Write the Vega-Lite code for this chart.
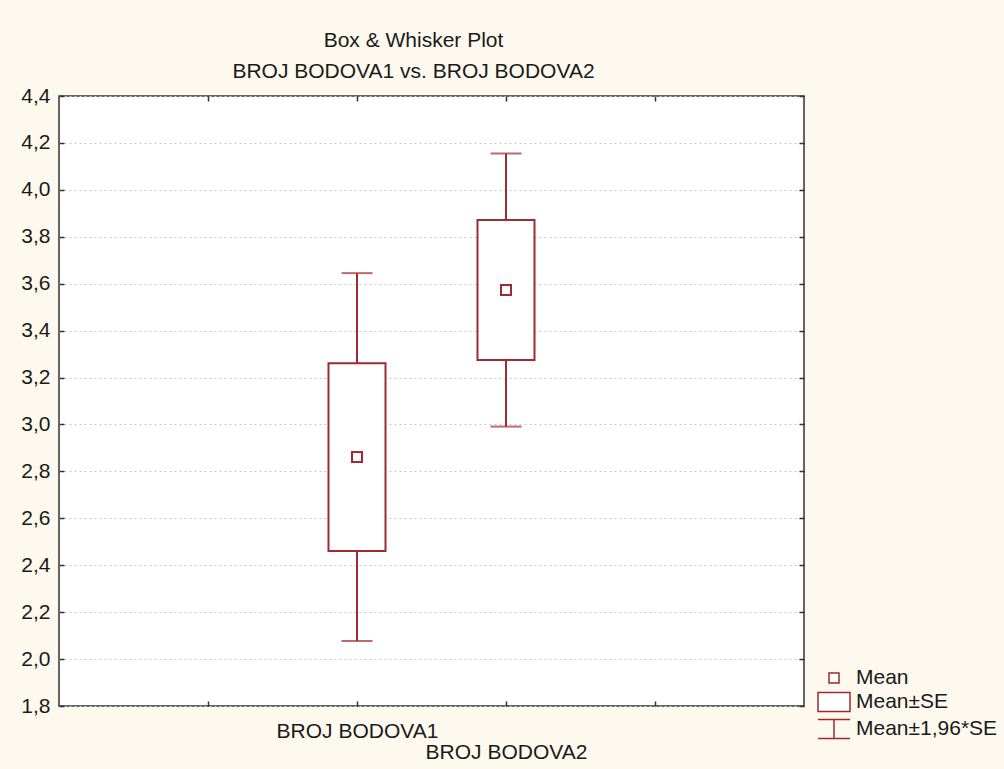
{
  "$schema": "https://vega.github.io/schema/vega-lite/v6.json",
  "autosize": {"type": "none"},
  "width": 745,
  "height": 610,
  "padding": {"left": 59, "top": 96, "right": 200, "bottom": 63},
  "background": "#FEF9EE",
  "title": {
    "text": ["Box & Whisker Plot", "BROJ BODOVA1 vs. BROJ BODOVA2"],
    "anchor": "middle",
    "dx": -18,
    "offset": 3,
    "lineHeight": 31,
    "font": "Liberation Sans",
    "fontSize": 21,
    "fontWeight": "normal",
    "color": "#1a1a1a"
  },
  "config": {
    "view": {"fill": "white", "stroke": "#333333", "strokeWidth": 1.5},
    "axis": {
      "labelFont": "Liberation Sans",
      "labelFontSize": 21,
      "labelColor": "#1a1a1a",
      "domain": false,
      "tickColor": "#333333",
      "tickWidth": 1.5,
      "title": null
    }
  },
  "data": {
    "values": [
      {"variable": "BROJ BODOVA1", "mean": 2.861, "se_lo": 2.461, "se_hi": 3.261, "ci_lo": 2.077, "ci_hi": 3.645},
      {"variable": "BROJ BODOVA2", "mean": 3.573, "se_lo": 3.275, "se_hi": 3.872, "ci_lo": 2.991, "ci_hi": 4.155}
    ]
  },
  "resolve": {"axis": {"x": "independent", "y": "independent"}},
  "layer": [
    {
      "mark": {"type": "rule", "color": "#9F2B30", "strokeWidth": 2},
      "encoding": {
        "x": {
          "field": "variable", "type": "nominal",
          "scale": {"type": "point", "domain": ["_a", "BROJ BODOVA1", "BROJ BODOVA2", "_b"], "padding": 1},
          "axis": {
            "orient": "bottom",
            "labelAngle": 0,
            "tickSize": -5,
            "labelExpr": "indexof(datum.value, '_') == 0 ? '' : datum.value",
            "labelPadding": {"condition": {"test": "datum.value == 'BROJ BODOVA2'", "value": 40}, "value": 19},
            "labelBaseline": "top"
          }
        },
        "y": {
          "field": "ci_lo", "type": "quantitative",
          "scale": {"domain": [1.8, 4.4], "nice": false, "zero": false},
          "axis": {
            "orient": "left",
            "values": [1.8, 2.0, 2.2, 2.4, 2.6, 2.8, 3.0, 3.2, 3.4, 3.6, 3.8, 4.0, 4.2, 4.4],
            "labelExpr": "replace(format(datum.value, '.1f'), '.', ',')",
            "tickSize": -5,
            "labelPadding": 14,
            "grid": true,
            "gridColor": "#c8c8c8",
            "gridDash": [2, 3],
            "gridWidth": 1
          }
        },
        "y2": {"field": "ci_hi"}
      }
    },
    {
      "mark": {"type": "tick", "orient": "horizontal", "size": 31, "thickness": 2, "color": "#9F2B30"},
      "encoding": {
        "x": {
          "field": "variable", "type": "nominal",
          "axis": {"orient": "top", "labels": false, "tickSize": -5, "grid": false}
        },
        "y": {
          "field": "ci_lo", "type": "quantitative",
          "axis": {
            "orient": "right", "labels": false, "tickSize": -5, "grid": false,
            "values": [1.8, 2.0, 2.2, 2.4, 2.6, 2.8, 3.0, 3.2, 3.4, 3.6, 3.8, 4.0, 4.2, 4.4]
          }
        }
      }
    },
    {
      "mark": {"type": "tick", "orient": "horizontal", "size": 31, "thickness": 2, "color": "#9F2B30"},
      "encoding": {
        "x": {"field": "variable", "type": "nominal", "axis": null},
        "y": {"field": "ci_hi", "type": "quantitative", "axis": null}
      }
    },
    {
      "mark": {"type": "bar", "width": 57, "fill": "white", "stroke": "#9F2B30", "strokeWidth": 2},
      "encoding": {
        "x": {"field": "variable", "type": "nominal", "axis": null},
        "y": {"field": "se_lo", "type": "quantitative", "axis": null},
        "y2": {"field": "se_hi"}
      }
    },
    {
      "mark": {"type": "point", "filled": false, "size": 400, "strokeWidth": 2, "color": "#9F2B30", "fill": "white", "fillOpacity": 1, "opacity": 1},
      "encoding": {
        "x": {"field": "variable", "type": "nominal", "axis": null},
        "y": {"field": "mean", "type": "quantitative", "axis": null},
        "shape": {
          "datum": "Mean",
          "type": "nominal",
          "scale": {
            "domain": ["Mean", "Mean±SE", "Mean±1,96*SE"],
            "range": [
              "M-0.5,-0.5H0.5V0.5H-0.5Z",
              "M-1.6,-0.95H1.6V0.95H-1.6Z",
              "M-1.6,-0.95H1.6M0,-0.95V0.95M-1.6,0.95H1.6"
            ]
          },
          "legend": {
            "orient": "none",
            "legendX": 764,
            "legendY": 571,
            "title": null,
            "symbolSize": 400,
            "labelFont": "Liberation Sans",
            "labelFontSize": 21,
            "labelColor": "#1a1a1a",
            "rowPadding": 1,
            "labelOffset": 11,
            "encode": {
              "symbols": {
                "update": {
                  "stroke": {"value": "#9F2B30"},
                  "fill": {"value": "transparent"},
                  "strokeWidth": {"value": 2},
                  "opacity": {"value": 1}
                }
              }
            }
          }
        }
      }
    }
  ]
}
